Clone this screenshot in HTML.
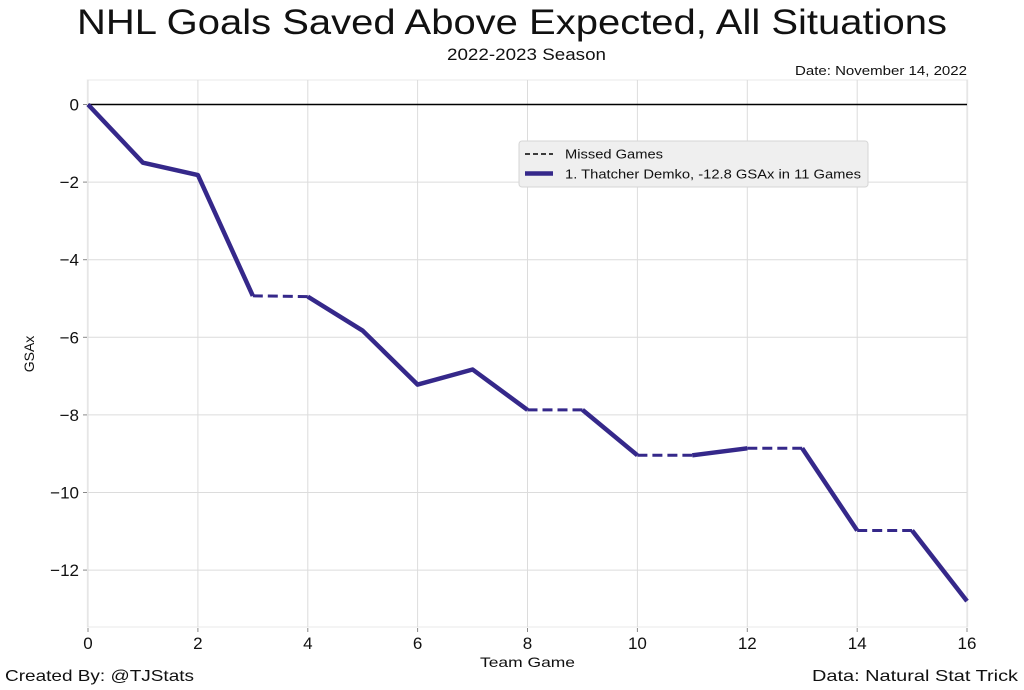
<!DOCTYPE html>
<html>
<head>
<meta charset="utf-8">
<style>
  html, body { margin: 0; padding: 0; background: #ffffff; }
  svg { display: block; }
  text { font-family: "Liberation Sans", "DejaVu Sans", sans-serif; fill: #111; }
</style>
</head>
<body>
<svg width="1024" height="690" viewBox="0 0 1024 690" xmlns="http://www.w3.org/2000/svg">
  <rect x="0" y="0" width="1024" height="690" fill="#ffffff"/>

  <!-- Title -->
  <text x="77" y="34" font-size="35" textLength="870" lengthAdjust="spacingAndGlyphs">NHL Goals Saved Above Expected, All Situations</text>
  <!-- Subtitle -->
  <text x="447" y="60" font-size="16.5" textLength="159" lengthAdjust="spacingAndGlyphs">2022-2023 Season</text>
  <!-- Date -->
  <text x="795" y="75" font-size="13" textLength="172" lengthAdjust="spacingAndGlyphs">Date: November 14, 2022</text>

  <!-- Plot frame (light) -->
  <rect x="87.5" y="80" width="880" height="547" fill="none" stroke="#f0f0f0" stroke-width="1.5"/>

  <!-- Horizontal grid -->
  <g stroke="#dcdcdc" stroke-width="1">
    <line x1="88" y1="182.1" x2="967" y2="182.1"/>
    <line x1="88" y1="259.7" x2="967" y2="259.7"/>
    <line x1="88" y1="337.3" x2="967" y2="337.3"/>
    <line x1="88" y1="414.9" x2="967" y2="414.9"/>
    <line x1="88" y1="492.5" x2="967" y2="492.5"/>
    <line x1="88" y1="570.1" x2="967" y2="570.1"/>
  </g>
  <!-- Vertical grid -->
  <g stroke="#dcdcdc" stroke-width="1">
    <line x1="88" y1="80" x2="88" y2="627"/>
    <line x1="197.9" y1="80" x2="197.9" y2="627"/>
    <line x1="307.8" y1="80" x2="307.8" y2="627"/>
    <line x1="417.6" y1="80" x2="417.6" y2="627"/>
    <line x1="527.5" y1="80" x2="527.5" y2="627"/>
    <line x1="637.4" y1="80" x2="637.4" y2="627"/>
    <line x1="747.3" y1="80" x2="747.3" y2="627"/>
    <line x1="857.2" y1="80" x2="857.2" y2="627"/>
    <line x1="967" y1="80" x2="967" y2="627"/>
  </g>

  <!-- Zero line -->
  <line x1="88" y1="104.5" x2="967" y2="104.5" stroke="#000" stroke-width="1.6"/>

  <!-- Tick marks -->
  <g stroke="#888" stroke-width="1">
    <line x1="83" y1="104.5" x2="87" y2="104.5"/>
    <line x1="83" y1="182.1" x2="87" y2="182.1"/>
    <line x1="83" y1="259.7" x2="87" y2="259.7"/>
    <line x1="83" y1="337.3" x2="87" y2="337.3"/>
    <line x1="83" y1="414.9" x2="87" y2="414.9"/>
    <line x1="83" y1="492.5" x2="87" y2="492.5"/>
    <line x1="83" y1="570.1" x2="87" y2="570.1"/>
    <line x1="88" y1="628" x2="88" y2="632"/>
    <line x1="197.9" y1="628" x2="197.9" y2="632"/>
    <line x1="307.8" y1="628" x2="307.8" y2="632"/>
    <line x1="417.6" y1="628" x2="417.6" y2="632"/>
    <line x1="527.5" y1="628" x2="527.5" y2="632"/>
    <line x1="637.4" y1="628" x2="637.4" y2="632"/>
    <line x1="747.3" y1="628" x2="747.3" y2="632"/>
    <line x1="857.2" y1="628" x2="857.2" y2="632"/>
    <line x1="967" y1="628" x2="967" y2="632"/>
  </g>

  <!-- Y tick labels -->
  <g font-size="17" text-anchor="end">
    <text x="79" y="110.5">0</text>
    <text x="79" y="188.1">−2</text>
    <text x="79" y="265.7">−4</text>
    <text x="79" y="343.3">−6</text>
    <text x="79" y="420.9">−8</text>
    <text x="79" y="498.5">−10</text>
    <text x="79" y="576.1">−12</text>
  </g>
  <!-- X tick labels -->
  <g font-size="17" text-anchor="middle">
    <text x="88" y="649">0</text>
    <text x="197.9" y="649">2</text>
    <text x="307.8" y="649">4</text>
    <text x="417.6" y="649">6</text>
    <text x="527.5" y="649">8</text>
    <text x="637.4" y="649">10</text>
    <text x="747.3" y="649">12</text>
    <text x="857.2" y="649">14</text>
    <text x="967" y="649">16</text>
  </g>

  <!-- Axis labels -->
  <text x="480" y="667" font-size="14" textLength="95" lengthAdjust="spacingAndGlyphs">Team Game</text>
  <text transform="translate(34,354) rotate(-90)" font-size="14" text-anchor="middle">GSAx</text>

  <!-- Series: solid segments -->
  <g fill="none" stroke="#35288a" stroke-width="4.5" stroke-linejoin="round" stroke-linecap="butt">
    <polyline points="88,104.5 142.9,162.7 197.9,175.1 252.8,295.8"/>
    <polyline points="307.8,296.6 362.7,330.7 417.6,384.6 472.6,369.5 527.5,409.9"/>
    <polyline points="582.5,409.9 637.4,455.3"/>
    <polyline points="692.3,455.3 747.3,448.3"/>
    <polyline points="802.2,448.3 857.2,530.5"/>
    <polyline points="912.1,530.5 967,601.1"/>
  </g>
  <!-- Series: dashed segments (missed games) -->
  <g fill="none" stroke="#35288a" stroke-width="3" stroke-dasharray="10,5">
    <line x1="252.8" y1="295.8" x2="307.8" y2="296.6"/>
    <line x1="527.5" y1="409.9" x2="582.5" y2="409.9"/>
    <line x1="637.4" y1="455.3" x2="692.3" y2="455.3"/>
    <line x1="747.3" y1="448.3" x2="802.2" y2="448.3"/>
    <line x1="857.2" y1="530.5" x2="912.1" y2="530.5"/>
  </g>

  <!-- Legend -->
  <rect x="519" y="141" width="349" height="46" rx="3" ry="3" fill="#efefef" stroke="#d6d6d6" stroke-width="1"/>
  <line x1="525" y1="154" x2="553" y2="154" stroke="#000" stroke-width="1.6" stroke-dasharray="5,3"/>
  <text x="565" y="158.5" font-size="13" textLength="98" lengthAdjust="spacingAndGlyphs">Missed Games</text>
  <line x1="525" y1="173.5" x2="553" y2="173.5" stroke="#35288a" stroke-width="4.5"/>
  <text x="565" y="178.5" font-size="13" textLength="296" lengthAdjust="spacingAndGlyphs">1. Thatcher Demko, -12.8 GSAx in 11 Games</text>

  <!-- Footer -->
  <text x="5" y="681" font-size="16" textLength="189" lengthAdjust="spacingAndGlyphs">Created By: @TJStats</text>
  <text x="812" y="681" font-size="16" textLength="206" lengthAdjust="spacingAndGlyphs">Data: Natural Stat Trick</text>
</svg>
</body>
</html>
